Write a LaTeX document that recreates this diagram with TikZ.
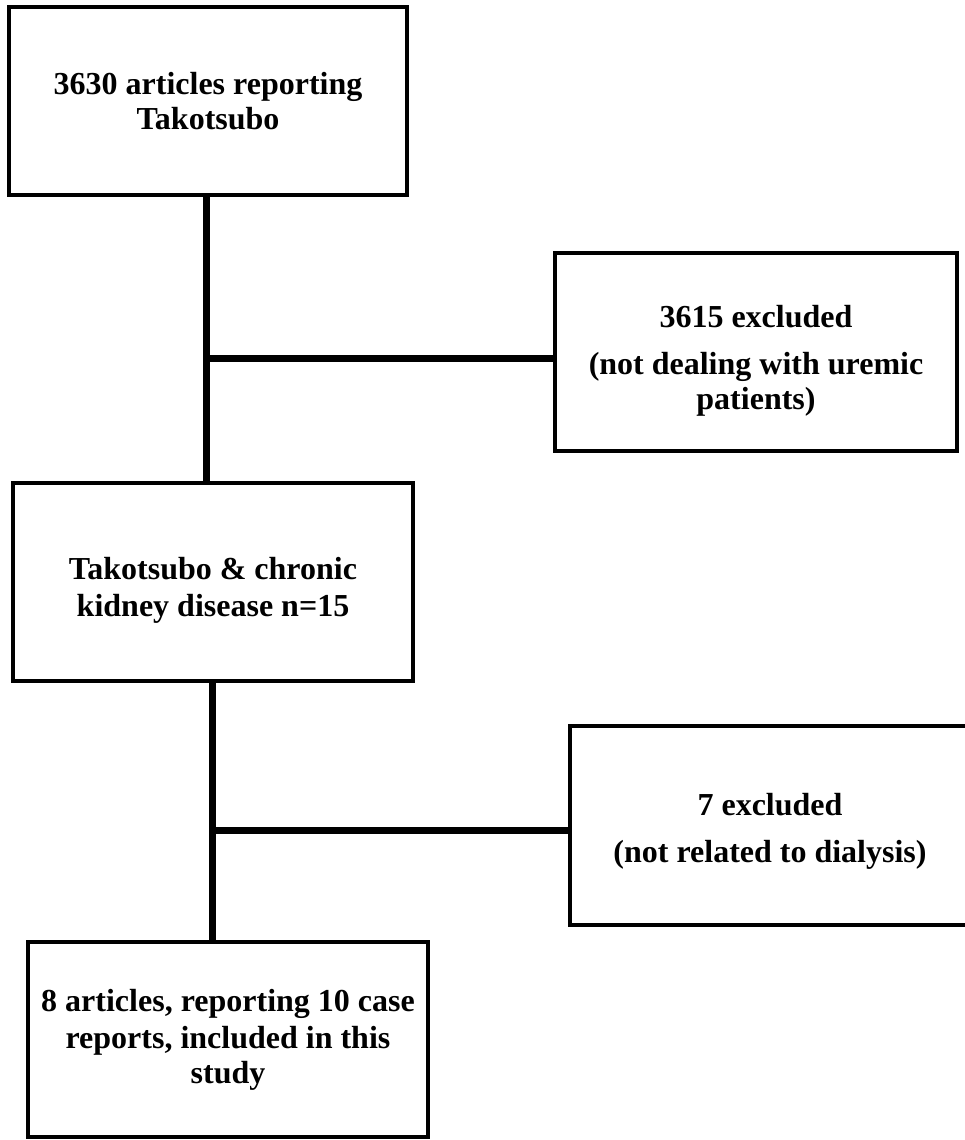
\documentclass[tikz,border=0pt]{standalone}
\usepackage{fontspec}
\setmainfont{Liberation Serif}
\begin{document}
\begin{tikzpicture}[x=1pt,y=-1pt,
  box/.style={draw=black,line width=4.5pt,fill=white,align=center,inner sep=0pt,
    font=\fontsize{32}{35}\selectfont\bfseries},
  conn/.style={draw=black,line width=7pt}]
\useasboundingbox (0,0) rectangle (964,1140);
\node[box,minimum width=398pt,minimum height=188pt] (b1) at (208,101) {3630 articles reporting\\Takotsubo};
\node[box,minimum width=402pt,minimum height=198pt] (b2) at (756,352) {\rule{0pt}{12pt}\\[-8pt]3615 excluded\\[12pt](not dealing with uremic\\patients)};
\node[box,minimum width=400pt,minimum height=198pt] (b3) at (213,582) {\rule{0pt}{12pt}\\[-8pt]Takotsubo \& chronic\\[2pt]kidney disease n=15};
\node[box,minimum width=400pt,minimum height=195pt] (b4) at (228,1039.5) {8 articles, reporting 10 case\\[2pt]reports, included in this\\study};
\node[box,minimum width=400pt,minimum height=199pt] (b5) at (770,825.5) {\rule{0pt}{8pt}\\[-10pt]7 excluded\\[12pt](not related to dialysis)};
\coordinate (j1) at (206,358);
\coordinate (j2) at (212,830);
\draw[conn] (b1.south -| j1) -- (b3.north -| j1);
\draw[conn] (j1) -- (b2.west |- j1);
\draw[conn] (b3.south -| j2) -- (b4.north -| j2);
\draw[conn] (j2) -- (b5.west |- j2);
\end{tikzpicture}
\end{document}
